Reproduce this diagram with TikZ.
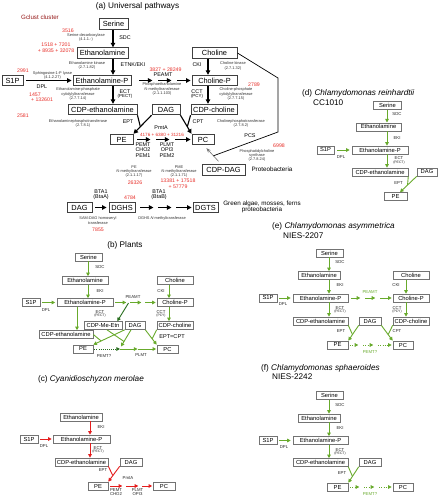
\documentclass[tikz,border=0pt]{standalone}
\usepackage{fontspec}
\setmainfont{Liberation Sans}
\usetikzlibrary{arrows.meta,calc}
\definecolor{rednum}{RGB}{232,48,42}
\definecolor{gclust}{RGB}{150,25,25}
\definecolor{grn}{RGB}{104,170,44}
\definecolor{dgrn}{RGB}{40,110,30}
\definecolor{redarr}{RGB}{228,30,30}
\newcommand\fzTitle{\fontsize{8.2}{9}\selectfont}
\newcommand\fzBoxA{\fontsize{7.4}{8}\selectfont}
\newcommand\fzLabA{\fontsize{5.4}{5.3}\selectfont}
\newcommand\fzLabAs{\fontsize{4.4}{5}\selectfont}
\newcommand\fzTiny{\fontsize{3.9}{4.4}\selectfont}
\newcommand\fzNum{\fontsize{5.2}{5.8}\selectfont}
\newcommand\fzNumS{\fontsize{4.6}{5}\selectfont}
\newcommand\fzBoxB{\fontsize{5.8}{6.5}\selectfont}
\newcommand\fzLabB{\fontsize{4.3}{4.0}\selectfont}
\newcommand\fzLabBs{\fontsize{3.4}{3.6}\selectfont}
\newcommand\fzMid{\fontsize{6.3}{6}\selectfont}
\newcommand\fzGcl{\fontsize{6.2}{7}\selectfont}
\begin{document}
\begin{tikzpicture}[x=1pt,y=-1pt,
  boxA/.style={draw=black!75, line width=0.9pt, inner sep=0pt, minimum height=10.5pt, font=\fzBoxA},
  boxB/.style={draw=black!55, line width=0.6pt, inner sep=0pt, minimum height=8pt, font=\fzBoxB},
  labA/.style={font=\fzLabA, inner sep=0pt, align=center},
  labAs/.style={font=\fzLabAs, inner sep=0pt},
  tny/.style={font=\fzTiny, text=black!80, inner sep=0pt, align=center},
  num/.style={font=\fzNum, text=rednum, inner sep=0pt, align=center},
  numS/.style={font=\fzNumS, text=rednum, inner sep=0pt},
  labB/.style={font=\fzLabB, text=black!85, inner sep=0pt, align=center},
  labBs/.style={font=\fzLabBs, text=black!85, inner sep=0pt},
  ttl/.style={font=\fzTitle, inner sep=0pt},
  arrA/.style={line width=1.1pt, -{Triangle[length=4.5pt,width=4.5pt]}},
  lnA/.style={line width=1.1pt},
  arrG/.style={draw=grn, line width=0.9pt, -{Triangle[length=3.6pt,width=3.6pt]}},
  lnG/.style={draw=grn, line width=0.9pt},
  arrD/.style={draw=dgrn, line width=0.9pt, -{Triangle[length=3.6pt,width=3.6pt]}},
  arrR/.style={draw=redarr, line width=0.9pt, -{Triangle[length=3.6pt,width=3.6pt]}},
  lnR/.style={draw=redarr, line width=0.9pt},
  dots/.style={dash pattern=on 1pt off 1.1pt}
]
\fill[white] (0,0) rectangle (439,500);
\path[use as bounding box] (0,0) rectangle (439,500);

% ================= (a) =================
\node[ttl] (tA) at (137.5,6) {(a) Universal pathways};
\node[inner sep=0pt, font=\fzGcl, text=gclust] (gcl) at (40,17) {Gclust cluster};
\coordinate (cA) at (113,0);
\coordinate (cCh) at (208,0);
\node[boxA, minimum width=29pt] (serA) at (113.5,24) {Serine};
\node[boxA, minimum width=51pt] (ethA) at (102.5,53) {Ethanolamine};
\node[boxA, minimum width=58pt] (ethPA) at (102,80.5) {Ethanolamine-P};
\node[boxA, minimum width=69pt] (cdpeA) at (102.5,109.5) {CDP-ethanolamine};
\node[boxA, minimum width=21pt] (s1pA) at (12.5,80.5) {S1P};
\node[boxA, minimum width=28pt] (dagA) at (166,109.5) {DAG};
\node[boxA, minimum width=45pt] (cholA) at (214.5,53) {Choline};
\node[boxA, minimum width=45pt] (cholPA) at (214.5,80.5) {Choline-P};
\node[boxA, minimum width=46pt] (cdpcA) at (214,109.5) {CDP-choline};
\node[boxA, minimum width=23pt] (peA) at (121.5,139.5) {PE};
\node[boxA, minimum width=22pt] (pcA) at (203,139.5) {PC};
\node[boxA, minimum width=43pt] (cdpdagA) at (223.5,170) {CDP-DAG};
\node[boxA, minimum width=25pt] (dag2A) at (79.5,207.5) {DAG};
\node[boxA, minimum width=26pt] (dghsA) at (122,207.5) {DGHS};
\node[boxA, minimum width=25pt] (dgtsA) at (205.5,207.5) {DGTS};

\draw[arrA] (serA.south -| cA) -- (ethA.north -| cA);
\draw[arrA] (ethA.south -| cA) -- (ethPA.north -| cA);
\draw[arrA] (ethPA.south -| cA) -- (cdpeA.north -| cA);
\draw[arrA] (cholA.south -| cCh) -- (cholPA.north -| cCh);
\draw[arrA] (cholPA.south -| cCh) -- (cdpcA.north -| cCh);
\draw[arrA] ($(s1pA.east)+(3,0)$) -- ($(ethPA.west)+(-1,0)$);
\draw[arrA] ($(ethPA.east)+(8,0)$) -- ($(ethPA.east)+(21,0)$);
\draw[arrA] ($(ethPA.east)+(27,0)$) -- ($(ethPA.east)+(40,0)$);
\draw[arrA] ($(ethPA.east)+(46,0)$) -- ($(cholPA.west)+(-1,0)$);
\draw[arrA] (dagA.south west) -- (peA.north east);
\draw[lnA] (cdpeA.south east) -- ($(dagA.south west)!0.62!(peA.north east)$);
\draw[arrA] (dagA.south east) -- (pcA.north west);
\draw[lnA] (cdpcA.south west) -- ($(dagA.south east)!0.62!(pcA.north west)$);
\draw[arrA] ($(peA.east)+(4,0)$) -- ($(peA.east)+(17,0)$);
\draw[arrA] ($(peA.east)+(23,0)$) -- ($(peA.east)+(36,0)$);
\draw[arrA] ($(peA.east)+(42,0)$) -- ($(pcA.west)+(-1,0)$);
\draw[arrA] ($(dag2A.east)+(3,0)$) -- ($(dghsA.west)+(-2,0)$);
\draw[arrA] ($(dghsA.east)+(5,0)$) -- ($(dghsA.east)+(18,0)$);
\draw[arrA] ($(dghsA.east)+(23,0)$) -- ($(dghsA.east)+(36,0)$);
\draw[arrA] ($(dghsA.east)+(41,0)$) -- ($(dgtsA.west)+(-1,0)$);
\coordinate (pcs1) at (278,78);
\coordinate (pcs2) at (278,132);
\coordinate (pcsS) at ($(cdpdagA.north)+(-5,-3)$);
\coordinate (pcsE) at ($(pcA.south east)+(-8,3)$);
\draw[draw=black!55, line width=0.6pt, -{Stealth[length=4.5pt,width=3.5pt]}] (pcsS) -- (pcsE);
\draw[line width=0.7pt] (cholA.east) -- (pcs1) -- (pcs2) -- ($(pcsS)!0.42!(pcsE)$);

\node[num] (n3516) at (68,30.5) {3516};
\node[tny] (eSDC) at (86,37.5) {Serine decarboxylase\\(4.1.1.-)};
\node[labA] (lSDC) at (125,38) {SDC};
\node[num] (n1518) at (56,47.5) {1518 + 7201\\+ 8935 + 32078};
\node[tny] (eETNK) at (87,65.5) {Ethanolamine kinase\\(2.7.1.82)};
\node[labA] (lETNK) at (133,65) {ETNK/EKI};
\node[num] (n2991) at (23,71) {2991};
\node[tny] (eDPL) at (52.5,75.5) {Sphingosine-1-P lyase\\(4.1.2.27)};
\node[labA] (lDPL) at (42,86.5) {DPL};
\node[tny] (eECT) at (78,94) {Ethanolamine-phosphate\\cytidylyltransferase\\(2.7.7.14)};
\node[labA] (lECT) at (125,91.5) {ECT};
\node[labAs] (lPECT) at (125,96.5) {(PECT)};
\node[num] (n1457) at (35,94.5) {1457};
\node[num] (n132601) at (42,100) {+ 132601};
\node[num] (n2581) at (23,115.5) {2581};
\node[tny] (eEPT) at (78,121) {Ethanolaminephosphotransferase};
\node[tny] (eEPT2) at (83,125.2) {(2.7.8.1)};
\node[labA] (lEPT) at (128,122) {EPT};
\node[num] (n3827) at (165.5,70) {3827 + 28249};
\node[labA] (lPEAMT) at (163,74.5) {PEAMT};
\node[tny] (ePEAMT) at (162,89) {Phosphoethanolamine\\\textit{N}-methyltransferase\\(2.1.1.103)};
\node[labA] (lCKI) at (197,65) {CKI};
\node[tny] (eCKI) at (233,66) {Choline kinase\\(2.7.1.32)};
\node[num] (n2789) at (254,85) {2789};
\node[labA] (lCCT) at (197,92) {CCT};
\node[labAs] (lPCY) at (197,96.5) {(PCY)};
\node[tny] (eCCT) at (236,94) {Choline-phosphate\\cytidylyltransferase\\(2.7.7.15)};
\node[labA] (lCPT) at (198,122) {CPT};
\node[tny] (eCPT) at (241,123.5) {Cholinephosphotransferase\\(2.7.8.2)};
\node[labA] (lPmtA) at (161,128) {PmtA};
\node[numS] (n4176) at (162,134.5) {4176 + 6380 + 31216};
\node[labA] (lPEMT) at (143,150) {PEMT\\CHO2\\PEM1};
\node[labA] (lPLMT) at (167,150) {PLMT\\OPI3\\PEM2};
\node[tny] (ePEMT) at (134,171.5) {PE\\\textit{N}-methyltransferase\\(2.1.1.17)};
\node[num] (n26326) at (135,182.5) {26326};
\node[tny] (ePLMT) at (179,171.5) {PME\\\textit{N}-methyltransferase\\(2.1.1.71)};
\node[num] (n13381) at (178,184) {13381 + 17518\\+ 57779};
\node[labA] (lPCS) at (250,136) {PCS};
\node[num] (n6998) at (279,146) {6998};
\node[tny] (ePCS) at (257,155.5) {Phosphatidylcholine\\synthase\\(2.7.8.24)};
\node[inner sep=0pt, font=\fzMid] (lProt) at (272,169.5) {Proteobacteria};
\node[labA] (lBtaA) at (101,195) {BTA1\\(BtaA)};
\node[num] (n4784) at (130,198) {4784};
\node[labA] (lBtaB) at (159,195) {BTA1\\(BtaB)};
\node[tny] (eBtaA) at (98,220.5) {SAM:DAG homoseryl\\transferase};
\node[num] (n7855) at (98,229.5) {7855};
\node[tny] (eBtaB) at (162,218.5) {DGHS \textit{N}-methyltransferase};
\node[inner sep=0pt, font=\fzMid, align=center] (lGreen) at (262,207) {Green algae, mosses, ferns\\proteobacteria};

% ================= (b) =================
\node[ttl] (tB) at (125,245) {(b) Plants};
\coordinate (cB) at (88,0);
\coordinate (cBe) at (77,0);
\coordinate (cBc) at (169,0);
\node[boxB, minimum width=27pt] (serB) at (88.5,257) {Serine};
\node[boxB, minimum width=46pt] (ethB) at (85,280.5) {Ethanolamine};
\node[boxB, minimum width=56pt] (ethPB) at (85,302.5) {Ethanolamine-P};
\node[boxB, minimum width=18pt] (s1pB) at (31,302.5) {S1P};
\node[boxB, minimum width=36pt] (cholB) at (175,280.5) {Choline};
\node[boxB, minimum width=36pt] (cholPB) at (175,302.5) {Choline-P};
\node[boxB, minimum width=36pt] (cdpcB) at (175,325.5) {CDP-choline};
\node[boxB, minimum width=38pt] (cdpmeB) at (103,325.5) {CDP-Me-Etn};
\node[boxB, minimum width=20pt] (dagB) at (135,325.5) {DAG};
\node[boxB, minimum width=54pt] (cdpeB) at (66,334.5) {CDP-ethanolamine};
\node[boxB, minimum width=20pt] (peB) at (83,349) {PE};
\node[boxB, minimum width=21pt] (pcB) at (167.5,349) {PC};
\coordinate (jB) at (120,349);
\coordinate (jB2) at (137.5,349);
\coordinate (pmB) at (128.5,303);

\draw[arrG] (serB.south -| cB) -- (ethB.north -| cB);
\draw[arrG] (ethB.south -| cB) -- (ethPB.north -| cB);
\draw[arrG] ($(s1pB.east)+(2,0)$) -- ($(ethPB.west)+(-1.5,0)$);
\draw[arrG] (ethPB.south -| cBe) -- (cdpeB.north -| cBe);
\draw[arrG] (cholB.south -| cBc) -- (cholPB.north -| cBc);
\draw[arrG] (cholPB.south -| cBc) -- (cdpcB.north -| cBc);
\draw[arrG] ($(ethPB.east)+(2,0)$) -- ($(ethPB.east)+(13,0)$);
\draw[arrG] ($(ethPB.east)+(17,0)$) -- ($(ethPB.east)+(28,0)$);
\draw[arrG] ($(ethPB.east)+(32,0)$) -- ($(cholPB.west)+(-1,0)$);
\draw[arrD] (pmB) -- ($(cdpmeB.north east)+(-5,0)$);
\draw[arrG] (dagB.south west) -- (peB.north east);
\draw[lnG] (cdpeB.east) -- ($(dagB.south west)!0.75!(peB.north east)$);
\draw[arrG] ($(dagB.south)+(-4,0)$) -- ($(jB)+(1,-2.5)$);
\draw[lnG] ($(cdpmeB.south)+(4,0)$) -- ($($(dagB.south)+(-4,0)$)!0.7!($(jB)+(1,-2.5)$)$);
\draw[arrG] (dagB.south east) -- (pcB.north west);
\draw[lnG] (cdpcB.south west) -- ($(dagB.south east)!0.6!(pcB.north west)$);
\draw[arrD, dots] ($(peB.east)+(1,0)$) -- (jB);
\draw[arrG] (jB) -- (jB2);
\draw[arrG] (jB2) -- ($(pcB.west)+(-0.5,0)$);

\node[labB] (lSDCb) at (100,267) {SDC};
\node[labB] (lEKIb) at (100,291) {EKI};
\node[labB] (lDPLb) at (46,310) {DPL};
\node[labB] (lPEAMTb) at (133,297.5) {PEAMT};
\node[labB] (lCKIb) at (161,291) {CKI};
\node[labB] (lECTb) at (100,312) {ECT};
\node[labBs] (lPECTb) at (100,315.7) {(PECT)};
\node[labB] (lCCTb) at (161,311.7) {CCT};
\node[labBs] (lPCYb) at (161,315.3) {(PCY)};
\node[inner sep=0pt, font=\fontsize{5.6}{6}\selectfont] (lEC) at (172,336.5) {EPT=CPT};
\node[labB] (lPEMTb) at (104,355.5) {PEMT?};
\node[labB] (lPLMTb) at (141,355.5) {PLMT};

% ================= (c) =================
\node[ttl] (tC) at (91,379) {(c) \textit{Cyanidioschyzon merolae}};
\coordinate (cC) at (90,0);
\node[boxB, minimum width=42pt] (ethC) at (81,417) {Ethanolamine};
\node[boxB, minimum width=57pt] (ethPC) at (81.5,439) {Ethanolamine-P};
\node[boxB, minimum width=18pt] (s1pC) at (29,439) {S1P};
\node[boxB, minimum width=53pt] (cdpeC) at (81.5,462) {CDP-ethanolamine};
\node[boxB, minimum width=22pt] (dagC) at (131,462) {DAG};
\node[boxB, minimum width=20pt] (peC) at (98,486) {PE};
\node[boxB, minimum width=22pt] (pcC) at (164,486) {PC};
\draw[arrR] (ethC.south -| cC) -- (ethPC.north -| cC);
\draw[arrR] (ethPC.south -| cC) -- (cdpeC.north -| cC);
\draw[arrR] ($(s1pC.east)+(2,0)$) -- ($(ethPC.west)+(-1,0)$);
\draw[arrR] (dagC.south west) -- (peC.north east);
\draw[lnR] (cdpeC.south east) -- ($(dagC.south west)!0.6!(peC.north east)$);
\draw[arrR] ($(peC.east)+(2,0)$) -- ($(peC.east)+(14,0)$);
\draw[arrR] ($(peC.east)+(18,0)$) -- ($(peC.east)+(30,0)$);
\draw[arrR] ($(peC.east)+(34,0)$) -- ($(pcC.west)+(-0.5,0)$);
\node[labB] (lEKIc) at (101,427) {EKI};
\node[labB] (lDPLc) at (44,446) {DPL};
\node[labB] (lECTc) at (98,448) {ECT};
\node[labBs] (lPECTc) at (98,451.7) {(PECT)};
\node[labB] (lEPTc) at (103,470) {EPT};
\node[labB] (lPmtAc) at (128,478) {PmtA};
\node[labB] (lPEMTc) at (116,492) {PEMT\\CHO2};
\node[labB] (lPLMTc) at (137.5,492) {PLMT\\OPI3};

% ================= (d) =================
\node[ttl, anchor=west] (tD) at (302,93) {(d) \textit{Chlamydomonas reinhardtii}};
\node[ttl, anchor=west] (tD2) at (313,103) {CC1010};
\coordinate (cD) at (387,0);
\node[boxB, minimum width=28pt] (serD) at (387.5,105.5) {Serine};
\node[boxB, minimum width=45pt] (ethD) at (378.5,126.8) {Ethanolamine};
\node[boxB, minimum width=56pt] (ethPD) at (380,150) {Ethanolamine-P};
\node[boxB, minimum width=17pt] (s1pD) at (325.5,150) {S1P};
\node[boxB, minimum width=56pt] (cdpeD) at (380,172) {CDP-ethanolamine};
\node[boxB, minimum width=20pt] (dagD) at (427,172) {DAG};
\node[boxB, minimum width=23pt] (peD) at (395.5,196.5) {PE};
\coordinate (tipD) at ($(peD.north)+(4.5,0)$);
\draw[arrG] (serD.south -| cD) -- (ethD.north -| cD);
\draw[arrG] (ethD.south -| cD) -- (ethPD.north -| cD);
\draw[arrG] (ethPD.south -| cD) -- (cdpeD.north -| cD);
\draw[arrG] ($(s1pD.east)+(3,0)$) -- ($(ethPD.west)+(-2,0)$);
\draw[arrG] (dagD.south west) -- (tipD);
\draw[lnG] (cdpeD.south east) -- ($(dagD.south west)!0.55!(tipD)$);
\node[labB] (lSDCd) at (397,114) {SDC};
\node[labB] (lEKId) at (397,138.5) {EKI};
\node[labB] (lDPLd) at (341,157) {DPL};
\node[labB] (lECTd) at (399,158.5) {ECT};
\node[labBs] (lPECTd) at (399,162.2) {(PECT)};
\node[labB] (lEPTd) at (398.5,183) {EPT};

% ================= (e) =================
\node[ttl, anchor=west] (tE) at (272,226) {(e) \textit{Chlamydomonas asymmetrica}};
\node[ttl, anchor=west] (tE2) at (283,235.5) {NIES-2207};
\coordinate (cE) at (329,0);
\coordinate (cEc) at (406,0);
\node[boxB, minimum width=27pt] (serE) at (329.5,253) {Serine};
\node[boxB, minimum width=42pt] (ethE) at (319,275.5) {Ethanolamine};
\node[boxB, minimum width=55pt] (ethPE) at (320.5,298) {Ethanolamine-P};
\node[boxB, minimum width=18pt] (s1pE) at (268,298) {S1P};
\node[boxB, minimum width=36pt] (cholE) at (411,275.5) {Choline};
\node[boxB, minimum width=36pt] (cholPE) at (411,298) {Choline-P};
\node[boxB, minimum width=36pt] (cdpcE) at (411,321) {CDP-choline};
\node[boxB, minimum width=55pt] (cdpeE) at (320.5,321) {CDP-ethanolamine};
\node[boxB, minimum width=22pt] (dagE) at (370,321) {DAG};
\node[boxB, minimum width=21pt] (peE) at (337.5,345) {PE};
\node[boxB, minimum width=20pt] (pcE) at (403,345) {PC};
\draw[arrG] (serE.south -| cE) -- (ethE.north -| cE);
\draw[arrG] (ethE.south -| cE) -- (ethPE.north -| cE);
\draw[arrG] (ethPE.south -| cE) -- (cdpeE.north -| cE);
\draw[arrG] ($(s1pE.east)+(2,0)$) -- ($(ethPE.west)+(-2,0)$);
\draw[arrG] (cholE.south -| cEc) -- (cholPE.north -| cEc);
\draw[arrG] (cholPE.south -| cEc) -- (cdpcE.north -| cEc);
\draw[arrG] ($(ethPE.east)+(3,0)$) -- ($(ethPE.east)+(12,0)$);
\draw[arrG] ($(ethPE.east)+(17,0)$) -- ($(ethPE.east)+(27,0)$);
\draw[arrG] ($(ethPE.east)+(32,0)$) -- ($(cholPE.west)+(-1,0)$);
\draw[arrG] (dagE.south west) -- (peE.north east);
\draw[lnG] (cdpeE.south east) -- ($(dagE.south west)!0.6!(peE.north east)$);
\draw[arrG] (dagE.south east) -- (pcE.north west);
\draw[lnG] (cdpcE.south west) -- ($(dagE.south east)!0.6!(pcE.north west)$);
\draw[arrG, dots] ($(peE.east)+(2,0)$) -- ($(peE.east)+(10,0)$);
\draw[arrG, dots] ($(peE.east)+(15,0)$) -- ($(peE.east)+(25,0)$);
\draw[arrG, dots] ($(peE.east)+(30,0)$) -- ($(pcE.west)+(-1,0)$);
\node[labB] (lSDCe) at (340,262) {SDC};
\node[labB] (lEKIe) at (340,285) {EKI};
\node[labB] (lDPLe) at (283,304) {DPL};
\node[labB, text=grn] (lPEAMTe) at (370,292) {PEAMT};
\node[labB] (lCKIe) at (396,285) {CKI};
\node[labB] (lECTe) at (340,308) {ECT};
\node[labBs] (lPECTe) at (340,311.7) {(PECT)};
\node[labB] (lCCTe) at (397,308) {CCT};
\node[labBs] (lPCYe) at (397,311.7) {(PCY)};
\node[labB] (lEPTe) at (341,331) {EPT};
\node[labB] (lCPTe) at (397,331) {CPT};
\node[labB, text=grn] (lPEMTe) at (370,352) {PEMT?};

% ================= (f) =================
\node[ttl, anchor=west] (tF) at (261,368.5) {(f) \textit{Chlamydomonas sphaeroides}};
\node[ttl, anchor=west] (tF2) at (272,377) {NIES-2242};
\coordinate (cF) at (329,0);
\node[boxB, minimum width=27pt] (serF) at (329.5,395.5) {Serine};
\node[boxB, minimum width=42pt] (ethF) at (319,418) {Ethanolamine};
\node[boxB, minimum width=55pt] (ethPF) at (320.5,440.5) {Ethanolamine-P};
\node[boxB, minimum width=18pt] (s1pF) at (268,440.5) {S1P};
\node[boxB, minimum width=55pt] (cdpeF) at (320.5,462.5) {CDP-ethanolamine};
\node[boxB, minimum width=22pt] (dagF) at (370,462.5) {DAG};
\node[boxB, minimum width=21pt] (peF) at (337.5,487) {PE};
\node[boxB, minimum width=20pt] (pcF) at (403,487) {PC};
\draw[arrG] (serF.south -| cF) -- (ethF.north -| cF);
\draw[arrG] (ethF.south -| cF) -- (ethPF.north -| cF);
\draw[arrG] (ethPF.south -| cF) -- (cdpeF.north -| cF);
\draw[arrG] ($(s1pF.east)+(2,0)$) -- ($(ethPF.west)+(-2,0)$);
\draw[arrG] (dagF.south west) -- (peF.north east);
\draw[lnG] (cdpeF.south east) -- ($(dagF.south west)!0.6!(peF.north east)$);
\draw[arrG, dots] ($(peF.east)+(2,0)$) -- ($(peF.east)+(11,0)$);
\draw[arrG, dots] ($(peF.east)+(16,0)$) -- ($(peF.east)+(26,0)$);
\draw[arrG, dots] ($(peF.east)+(31,0)$) -- ($(pcF.west)+(-1,0)$);
\node[labB] (lSDCf) at (340,405) {SDC};
\node[labB] (lEKIf) at (340,428) {EKI};
\node[labB] (lDPLf) at (284,447) {DPL};
\node[labB] (lECTf) at (340,450) {ECT};
\node[labBs] (lPECTf) at (340,453.7) {(PECT)};
\node[labB] (lEPTf) at (342,473) {EPT};
\node[labB, text=grn] (lPEMTf) at (370,494) {PEMT?};
\end{tikzpicture}
\end{document}
